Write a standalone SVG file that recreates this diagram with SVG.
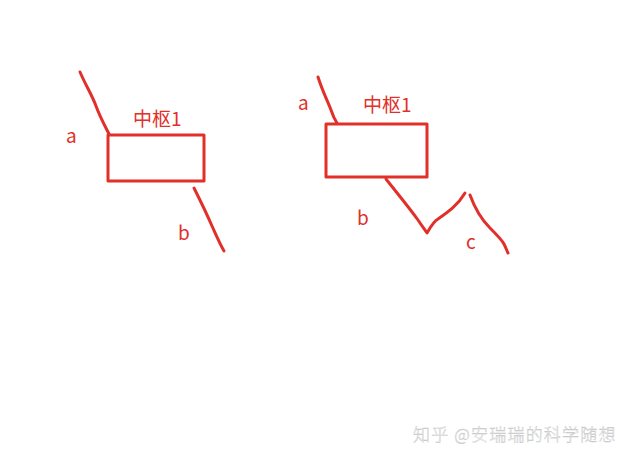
<svg xmlns="http://www.w3.org/2000/svg" width="636" height="461" viewBox="0 0 636 461">
<style>
.ln{fill:none;stroke:#e1302a;stroke-width:3;stroke-linecap:round;stroke-linejoin:round}
.t{fill:#e1302a;font-family:"Microsoft YaHei","Noto Sans CJK SC",sans-serif;font-size:19px}
.wm{fill:#fafafa;stroke:#c4c4c4;stroke-width:0.4;font-family:"Noto Sans CJK SC",sans-serif;font-size:17px;font-weight:300;letter-spacing:1.2px}
</style>
<rect width="636" height="461" fill="#fff"/>
<g id="node-left">
<rect class="ln" x="108" y="135" width="96" height="46"/>
<text class="t" x="133" y="126">中枢1</text>
</g>
<g id="node-right">
<rect class="ln" x="326" y="124" width="101" height="53"/>
<text class="t" x="363" y="112">中枢1</text>
</g>
<g id="connectors">
<path class="ln" d="M80,72 C86,86 92,95 96,106 C100,117 105,126 109,134"/>
<path class="ln" d="M194,188 C200,200 206,212 212,226 C217,237 220,244 224,251"/>
<path class="ln" d="M318,77 C322,90 328,102 331,110 C333,116 335,120 337,123"/>
<path class="ln" d="M386,179 C397,193 408,206 418,220 C422,226 425,230 427,233 C430,228 433,222 438,219 C448,212 458,205 465,193"/>
<path class="ln" d="M470,195 C474,206 480,218 490,228 C496,234 502,240 504,244 C506,248 507,251 508,253"/>
</g>
<g id="labels">
<text class="t" x="66" y="143">a</text>
<text class="t" x="178" y="240">b</text>
<text class="t" x="298" y="110">a</text>
<text class="t" x="357" y="225">b</text>
<text class="t" x="466" y="249">c</text>
</g>
<text class="wm" x="413" y="441">知乎 @安瑞瑞的科学随想</text>
</svg>
